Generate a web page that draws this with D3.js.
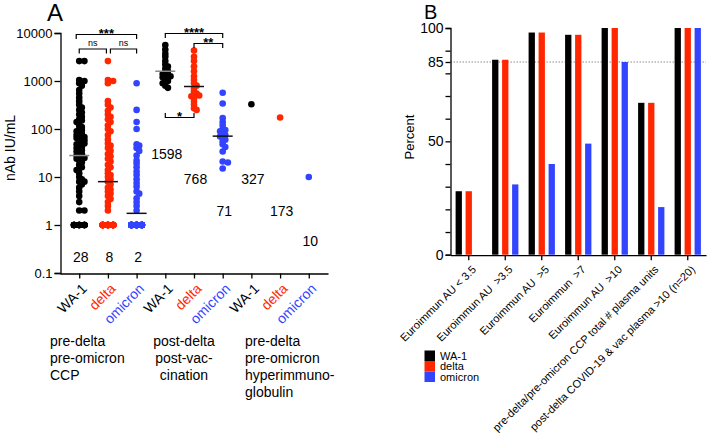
<!DOCTYPE html>
<html>
<head>
<script src="https://cdn.jsdelivr.net/npm/d3@7"></script>
<style>
	html, body { margin: 0; padding: 0; background: #fff; }
	text { font-family: "Liberation Sans", Arial, sans-serif; }
</style>
</head>
<body>
<script>
var W = 707, H = 433;
var svg = d3.select('body').append('svg')
	.attr('width', W).attr('height', H)
	.style('background-color', '#fff');

// ---------- data, panel A (nAb IU/mL) ----------
var variants = ['WA-1', 'delta', 'omicron'];
var catLabels = ['WA-1', 'delta', 'omicron', 'WA-1', 'delta', 'omicron', 'WA-1', 'delta', 'omicron'];

var ones = function(n) { var a = []; for (var i = 0; i < n; i++) a.push(1); return a; };

var ccpWA1 = [2600, 2600, 1050, 1000, 950, 900, 800, 650, 550, 450, 380, 320, 280, 250, 220, 200, 180, 160,
	150, 140, 120, 110, 100, 95, 90, 85, 80, 75, 70, 68, 65, 60, 58, 55, 52, 50, 48, 45, 42, 40, 38, 36,
	34, 32, 30, 28, 26, 25, 24, 22, 20, 18, 16, 15, 14, 12, 10, 9, 8, 8, 7, 6, 5, 4, 3, 2, 2].concat(ones(18));
var ccpDelta = [2600, 1050, 1000, 900, 380, 320, 280, 240, 200, 180, 160, 140, 120, 100, 90, 75, 60, 50,
	45, 40, 35, 30, 27, 24, 21, 18, 16, 14, 12, 11, 10, 9, 8, 7, 6, 5.5, 5, 4.5, 4, 3.5, 3, 2.5, 2].concat(ones(42));
var ccpOmicron = [900, 250, 140, 100, 48, 45, 40, 35, 28, 22, 19, 16, 13, 11, 9, 7.5, 6.3, 5, 4.5, 3.6,
	3, 2.5, 2].concat(ones(62));
var postWA1 = [5600, 4500, 3700, 3200, 2600, 2200, 2000, 1800, 1600, 1500, 1400, 1300, 1250, 1200, 1100,
	1000, 950, 900, 800, 720];
var postDelta = [4300, 3200, 2600, 2000, 1600, 1250, 1050, 900, 800, 700, 600, 550, 520, 500, 480, 430,
	370, 320, 270, 250];
var postOmicron = [570, 340, 170, 140, 120, 100, 95, 90, 80, 75, 70, 65, 60, 55, 48, 42, 34, 21, 20, 15];
var hyperWA1 = [327], hyperDelta = [173], hyperOmicron = [10];
var seriesA = [ccpWA1, ccpDelta, ccpOmicron, postWA1, postDelta, postOmicron, hyperWA1, hyperDelta, hyperOmicron];

var gmt = [28, 8, 1.75, 1598, 768, 71, 327, 173, 10];
var gmtText = ['28', '8', '2', '1598', '768', '71', '327', '173', '10'];
var cohorts = [['pre-delta', 'pre-omicron', 'CCP'], ['post-delta', 'post-vac-', 'cination'],
	['pre-delta', 'pre-omicron', 'hyperimmuno-', 'globulin']];
var comparisons = [[0, 2, '***'], [0, 1, 'ns'], [1, 2, 'ns'], [3, 5, '****'], [4, 5, '**'], [3, 4, '*']];
var yTicksA = [0.1, 1, 10, 100, 1000, 10000];

// ---------- data, panel B (percent) ----------
var conditions = ['Euroimmun AU < 3.5', 'Euroimmun AU  >3.5', 'Euroimmun AU  >5', 'Euroimmun  >7',
	'Euroimmun AU  >10', 'pre-delta/pre-omicron CCP total # plasma units',
	'post-delta COVID-19 & vac plasma >10 (n=20)'];
var pctWA1 = [28, 86, 98, 97, 100, 67, 100];
var pctDelta = [28, 86, 98, 97, 100, 67, 100];
var pctOmicron = [0, 31, 40, 49, 85, 21, 100];
var yTicksB = [0, 10, 20, 30, 40, 50, 60, 70, 80, 85, 90, 100];
var yLabelsB = [0, 50, 85, 100];
var threshold = 85;

var color = d3.scaleOrdinal().domain(variants).range(['#000000', '#ff2600', '#3344ff']);

// ================= Panel A =================
var yA = d3.scaleLog().domain([0.1, 10000]).range([273, 33]);
var xA = d3.scalePoint().domain(d3.range(9)).range([60, 328]).padding(0.67);
var gA = svg.append('g');

gA.append('text').attr('x', 47).attr('y', 21).attr('font-size', 24).text('A');

var axY = gA.append('g').attr('transform', 'translate(60.5,0)')
	.call(d3.axisLeft(yA).tickValues(yTicksA).tickSize(6).tickPadding(2).tickFormat(function(d) { return String(d); }));
var axX = gA.append('g').attr('transform', 'translate(0,273.5)')
	.call(d3.axisBottom(xA).tickSize(5).tickSizeOuter(0));
[axY, axX].forEach(function(a) {
	a.attr('font-family', '"Liberation Sans", Arial, sans-serif').attr('font-size', 13);
	a.selectAll('line, path').attr('stroke', '#000').attr('stroke-width', 1.3);
});
axX.selectAll('text')
	.text(function(d) { return catLabels[d]; })
	.attr('fill', function(d) { return color(catLabels[d]); })
	.attr('font-size', 14)
	.attr('x', 8).attr('y', 16).attr('dy', null)
	.attr('text-anchor', 'end')
	.attr('transform', 'rotate(-45,8,16)');

gA.append('text').attr('transform', 'translate(15,148) rotate(-90)')
	.attr('text-anchor', 'middle').attr('font-size', 14).text('nAb IU/mL');

// simple beeswarm placement
var R = 3.3, STEP = 2.6, DMIN = 2.8, CAP = 7.5;
function swarm(vals) {
	var pts = vals.map(function(v) { return { v: v, y: yA(v) }; })
		.sort(function(a, b) { return a.y - b.y; });
	var offs = [0];
	for (var k = 1; k * STEP <= CAP + 0.01; k++) offs.push(k * STEP, -k * STEP);
	var placed = [];
	pts.forEach(function(p) {
		var best = null, bestCount = 1e9;
		for (var i = 0; i < offs.length; i++) {
			var o = offs[i], cnt = 0;
			placed.forEach(function(q) { if (Math.hypot(q.dx - o, q.y - p.y) < DMIN) cnt++; });
			if (cnt === 0) { best = o; break; }
			if (cnt < bestCount) { bestCount = cnt; best = o; }
		}
		p.dx = best;
		placed.push(p);
	});
	return pts;
}

seriesA.forEach(function(vals, i) {
	var cx = xA(i);
	gA.append('g').selectAll('circle').data(swarm(vals)).enter().append('circle')
		.attr('cx', function(d) { return cx + d.dx; })
		.attr('cy', function(d) { return d.y; })
		.attr('r', R)
		.attr('fill', color(catLabels[i]));
	if (vals.length > 1) {
		gA.append('line')
			.attr('x1', cx - 10).attr('x2', cx + 10)
			.attr('y1', yA(gmt[i])).attr('y2', yA(gmt[i]))
			.attr('stroke', catLabels[i] === 'WA-1' ? '#8a8a8a' : '#111')
			.attr('stroke-width', 1.5);
	}
});

// value labels
var labelY = [262, 262, 262, 159, 184, 216, 184, 216, 246];
gmtText.forEach(function(t, i) {
	gA.append('text').attr('x', xA(i) + 1.5).attr('y', labelY[i])
		.attr('text-anchor', 'middle').attr('font-size', 14).text(t);
});

// significance brackets
var bracketY = [34.5, 49, 49, 33.5, 43.5, 117.5];
comparisons.forEach(function(c, i) {
	var x1 = xA(c[0]), x2 = xA(c[1]);
	if (c[2] === 'ns') { if (c[1] === 1) x2 -= 1.5; if (c[0] === 1) x1 += 2.5; }
	if (c[2] === '***') x1 -= 3;
	var y = bracketY[i], dir = c[2] === '*' ? -1 : 1;
	gA.append('path')
		.attr('d', 'M' + x1 + ',' + (y + 4.5 * dir) + 'V' + y + 'H' + x2 + 'V' + (y + 4.5 * dir))
		.attr('fill', 'none').attr('stroke', '#000').attr('stroke-width', 1.2);
	var isNs = c[2] === 'ns';
	gA.append('text').attr('x', (x1 + x2) / 2).attr('y', isNs ? y - 3.5 : y + 3)
		.attr('text-anchor', 'middle')
		.attr('font-size', isNs ? 9 : 13)
		.attr('font-weight', isNs ? 'normal' : 'bold')
		.text(c[2]);
});

// cohort labels
var cohortX = [50, 184, 245], cohortAnchor = ['start', 'middle', 'start'];
cohorts.forEach(function(lines, i) {
	lines.forEach(function(l, j) {
		gA.append('text').attr('x', cohortX[i]).attr('y', 346 + j * 17)
			.attr('text-anchor', cohortAnchor[i]).attr('font-size', 14).text(l);
	});
});

// ================= Panel B =================
var yB = d3.scaleLinear().domain([0, 100]).range([254.7, 28]);
var x0 = d3.scaleBand().domain(conditions).range([450.5, 706]);
var x1 = d3.scaleBand().domain(variants).range([0, 26.3]).paddingInner(0.37);
var seriesB = [pctWA1, pctDelta, pctOmicron];
var gB = svg.append('g');

gB.append('text').attr('x', 424).attr('y', 18.6).attr('font-size', 20).text('B');

gB.append('line').attr('x1', 450.5).attr('x2', 706)
	.attr('y1', yB(threshold)).attr('y2', yB(threshold))
	.attr('stroke', '#8c8c8c').attr('stroke-width', 1).attr('stroke-dasharray', '1.5,1.5');

conditions.forEach(function(cond, ci) {
	variants.forEach(function(v, vi) {
		var val = seriesB[vi][ci];
		gB.append('rect')
			.attr('x', x0(cond) + (x0.bandwidth() - 26.3) / 2 + x1(v))
			.attr('width', x1.bandwidth())
			.attr('y', yB(val))
			.attr('height', yB(0) - yB(val))
			.attr('fill', color(v));
	});
});

var byAx = gB.append('g').attr('transform', 'translate(450.5,0)')
	.call(d3.axisLeft(yB).tickValues(yTicksB).tickSize(5).tickPadding(2)
		.tickFormat(function(d) { return yLabelsB.indexOf(d) >= 0 ? d : ''; }));
var bxAx = gB.append('g').attr('transform', 'translate(0,' + (yB(0) + 0.5) + ')')
	.call(d3.axisBottom(x0).tickSize(5).tickSizeOuter(0));
[byAx, bxAx].forEach(function(a) {
	a.attr('font-family', '"Liberation Sans", Arial, sans-serif').attr('font-size', 14);
	a.selectAll('line, path').attr('stroke', '#000').attr('stroke-width', 1.3);
});
bxAx.selectAll('text')
	.attr('font-size', 11)
	.style('white-space', 'pre')
	.attr('x', 8).attr('y', 15).attr('dy', null)
	.attr('text-anchor', 'end')
	.attr('transform', 'rotate(-45,8,15)');

gB.append('text').attr('transform', 'translate(414,137) rotate(-90)')
	.attr('text-anchor', 'middle').attr('font-size', 13).text('Percent');

// legend
var leg = gB.append('g').attr('transform', 'translate(424.5,350.5)');
variants.forEach(function(v, i) {
	leg.append('rect').attr('x', 0).attr('y', i * 10.5).attr('width', 10.5).attr('height', 10.5).attr('fill', color(v));
	leg.append('text').attr('x', 15.5).attr('y', i * 10.5 + 9).attr('font-size', 11).text(v);
});
</script>
</body>
</html>
